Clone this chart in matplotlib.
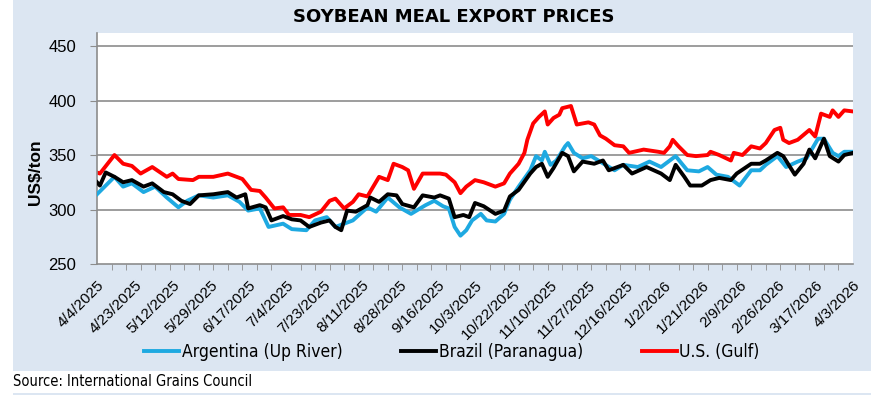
import matplotlib
matplotlib.use('Agg')
import matplotlib.pyplot as plt
from matplotlib import font_manager
from matplotlib.font_manager import FontProperties
from matplotlib.patches import Rectangle
import numpy as np
import pandas as pd

# readings: trading day number since 4/4/2025 and price in US$/ton
arg_day = [0, 3, 6, 9, 12, 16, 20, 24, 28, 31, 35, 40, 45, 49, 52, 56, 59, 64, 67, 72, 75,
           79, 82, 85, 88, 93, 96, 100, 104, 108, 113, 116, 119, 121, 123, 125, 127, 129,
           132, 134, 137, 140, 142, 145, 149, 151, 153, 154, 156, 158, 161, 162, 164, 167,
           170, 173, 178, 181, 186, 190, 194, 199, 203, 207, 210, 213, 217, 221, 225, 228,
           230, 234, 237, 241, 244, 248, 250, 253, 255, 257, 260]
arg_val = [314, 322, 330, 321, 324, 316, 321, 311, 302, 308, 313, 311, 313, 307, 299, 301,
           284, 287, 282, 281, 290, 293, 284, 287, 290, 302, 298, 311, 302, 296, 304, 308,
           303, 301, 284, 276, 281, 290, 296, 290, 289, 296, 309, 321, 336, 349, 345, 353,
           341, 345, 358, 361, 352, 347, 349, 344, 336, 341, 339, 344, 339, 349, 336, 335,
           339, 332, 330, 322, 336, 336, 341, 349, 339, 344, 347, 365, 365, 352, 349, 353,
           353]

bra_day = [0, 1, 3, 6, 9, 12, 16, 19, 23, 26, 29, 32, 35, 40, 45, 48, 51, 52, 56, 58, 60,
           64, 67, 70, 73, 77, 80, 82, 84, 86, 89, 93, 94, 97, 100, 103, 105, 109, 112, 116,
           118, 121, 123, 126, 128, 130, 133, 137, 140, 142, 145, 149, 151, 153, 155, 157,
           160, 162, 164, 167, 171, 174, 176, 181, 184, 189, 194, 197, 199, 202, 204, 208,
           211, 214, 218, 220, 225, 228, 230, 234, 236, 240, 243, 245, 247, 250, 252, 255,
           257, 260]
bra_val = [325, 322, 334, 330, 325, 327, 321, 324, 316, 314, 308, 305, 313, 314, 316, 311,
           314, 301, 304, 302, 290, 294, 291, 290, 284, 288, 290, 284, 281, 299, 298, 304,
           311, 307, 314, 313, 305, 302, 313, 311, 313, 310, 293, 295, 293, 306, 303, 296,
           299, 312, 318, 333, 339, 342, 330, 338, 352, 349, 335, 344, 342, 345, 336, 341,
           333, 339, 333, 327, 341, 330, 322, 322, 327, 329, 327, 333, 342, 342, 345, 352,
           349, 332, 342, 355, 347, 365, 349, 344, 350, 352]

us_day = [0, 1, 6, 9, 12, 15, 19, 24, 26, 28, 33, 35, 40, 45, 47, 50, 53, 56, 58, 61, 64,
          66, 70, 73, 77, 80, 82, 85, 88, 90, 93, 95, 97, 100, 102, 105, 107, 109, 112, 116,
          118, 120, 123, 125, 127, 130, 133, 137, 140, 142, 145, 147, 148, 150, 152, 154, 155,
          157, 159, 160, 163, 165, 169, 171, 173, 175, 178, 181, 183, 188, 193, 195, 197, 198,
          200, 203, 206, 210, 211, 214, 218, 219, 222, 225, 228, 230, 233, 235, 236, 238, 241,
          245, 247, 249, 252, 253, 255, 257, 260]
us_val = [334, 333, 350, 342, 340, 333, 339, 330, 333, 328, 327, 330, 330, 333, 331, 328,
          318, 317, 311, 301, 302, 295, 295, 293, 298, 308, 310, 301, 307, 314, 312, 321, 330,
          327, 342, 339, 336, 319, 333, 333, 333, 332, 325, 315, 321, 327, 325, 321, 324, 333,
          342, 352, 364, 379, 385, 390, 378, 384, 387, 393, 395, 378, 380, 378, 368, 365, 359,
          358, 352, 355, 353, 352, 358, 364, 358, 350, 349, 350, 353, 350, 345, 352, 350, 358,
          356, 361, 373, 375, 364, 361, 364, 373, 367, 388, 385, 391, 385, 391, 390]

days = pd.bdate_range('2025-04-04', '2026-04-03')
tick_pos = np.arange(0, len(days), 13)
tick_labels = ['{}/{}/{}'.format(d.month, d.day, d.year) for d in days[tick_pos]]

# condensed face for legend / source if one is installed
narrow_prop = None
for f in font_manager.fontManager.ttflist:
    if ('Narrow' in f.name or 'Condensed' in f.name or f.stretch in ('condensed', 'semi-condensed')) \
            and f.weight in (400, 'normal', 'regular') and f.style == 'normal':
        narrow_prop = f.fname
        break

bg = '#dce6f2'
grid_c = '#8c8c8c'

fig = plt.figure(figsize=(8.71, 3.95), dpi=100, facecolor='white')
fig.patches.append(Rectangle((13 / 871, 1 - 371 / 395), 1, 371 / 395, transform=fig.transFigure,
                             facecolor=bg, edgecolor='none', zorder=-10))
fig.patches.append(Rectangle((13 / 871, 0), 1, 2.5 / 395, transform=fig.transFigure,
                             facecolor=bg, edgecolor='none', zorder=-10))

ax = fig.add_axes([97 / 871, 1 - 264 / 395, (853 - 97) / 871, (264 - 33) / 395])
ax.set_facecolor('white')

ax.plot(arg_day, arg_val, color='#1ea9e1', lw=2.8, label='Argentina (Up River)', zorder=3)
ax.plot(bra_day, bra_val, color='black', lw=2.8, label='Brazil (Paranagua)', zorder=4)
ax.plot(us_day, us_val, color='#ff0000', lw=2.8, label='U.S. (Gulf)', zorder=2)

ax.set_xlim(0, len(days) - 1)
ax.set_ylim(250, 462)
ax.set_yticks([250, 300, 350, 400, 450])
for y in [300, 350, 400, 450]:
    ax.axhline(y, color=grid_c, lw=1.2, zorder=1)

ax.set_xticks(tick_pos)
ax.set_xticklabels(tick_labels, rotation=45, ha='right', va='top', rotation_mode='anchor',
                   fontsize=11, family='Liberation Sans')
ax.set_xticks(np.arange(0, len(days), 5), minor=True)
ax.tick_params(axis='x', which='major', length=0, pad=10)
ax.tick_params(axis='x', which='minor', length=4, color=grid_c, direction='out')
ax.tick_params(axis='y', length=5, color=grid_c, labelsize=12, pad=10)
for lab in ax.get_yticklabels():
    lab.set_family('Liberation Sans')

for side in ['top', 'right']:
    ax.spines[side].set_visible(False)
for side in ['left', 'bottom']:
    ax.spines[side].set_color(grid_c)
    ax.spines[side].set_linewidth(1.2)

fig.text(35 / 871, 1 - 172 / 395, 'US$/ton', rotation=90, ha='center', va='center',
         fontsize=12.5, fontweight='bold', family='Liberation Sans')
fig.text(454 / 871, 1 - 17 / 395, 'SOYBEAN MEAL EXPORT PRICES', ha='center', va='center',
         fontsize=13, fontweight='bold', family='DejaVu Sans')

if narrow_prop:
    leg_font = FontProperties(fname=narrow_prop, size=12.5)
    src_font = FontProperties(fname=narrow_prop, size=10.5)
else:
    leg_font = FontProperties(family='Liberation Sans', size=12)
    src_font = FontProperties(family='Liberation Sans', size=10)

fig.legend(loc='center', bbox_to_anchor=(452 / 871, 1 - 352 / 395), ncol=3, frameon=False,
           prop=leg_font, handlelength=2.0, handletextpad=0.15, columnspacing=3.4)
fig.text(13 / 871, 1 - 382 / 395, 'Source: International Grains Council', ha='left', va='center',
         fontproperties=src_font)

fig.savefig('out.png', dpi=100, facecolor='white')
